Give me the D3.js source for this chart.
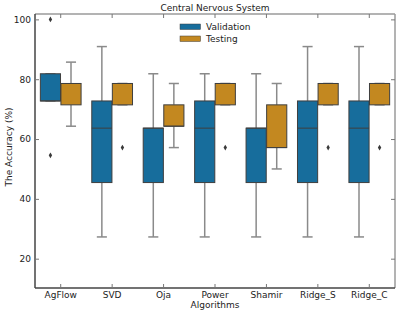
<!DOCTYPE html>
<html>
<head>
<meta charset="utf-8">
<script src="https://cdn.jsdelivr.net/npm/d3@7"></script>
<style>
  body { margin: 0; background: #fff; }
  text { font-family: "DejaVu Sans", sans-serif; fill: #222; }
</style>
</head>
<body>
<script>
// categories and series
const algorithms = ["AgFlow", "SVD", "Oja", "Power", "Shamir", "Ridge_S", "Ridge_C"];
const groups = ["Validation", "Testing"];
const groupColors = ["#176d9c", "#c38820"];

// Validation box stats (accuracy %)
const valLow  = [72.73, 27.27, 27.27, 27.27, 27.27, 27.27, 27.27];
const valQ1   = [72.73, 45.45, 45.45, 45.45, 45.45, 45.45, 45.45];
const valMed  = [72.73, 63.64, 63.64, 63.64, 63.64, 63.64, 63.64];
const valQ3   = [81.82, 72.73, 63.64, 72.73, 63.64, 72.73, 72.73];
const valHigh = [81.82, 90.91, 81.82, 81.82, 81.82, 90.91, 90.91];
const valOut  = [[100, 54.55], [], [], [], [], [], []];

// Testing box stats (accuracy %)
const testLow  = [64.29, 71.43, 57.14, 71.43, 50.00, 71.43, 71.43];
const testQ1   = [71.43, 71.43, 64.29, 71.43, 57.14, 71.43, 71.43];
const testMed  = [78.57, 78.57, 64.29, 78.57, 57.14, 78.57, 78.57];
const testQ3   = [78.57, 78.57, 71.43, 78.57, 71.43, 78.57, 78.57];
const testHigh = [85.71, 78.57, 78.57, 78.57, 78.57, 78.57, 78.57];
const testOut  = [[], [57.14], [], [57.14], [], [57.14], [57.14]];

const yTicks = [20, 40, 60, 80, 100];

let margin = {top: 14, right: 4, bottom: 28, left: 35},
    width = 399 - margin.left - margin.right,
    height = 316 - margin.top - margin.bottom;

let svg = d3.select("body")
    .append("svg")
        .attr("width", 399)
        .attr("height", 316);

let g = svg.append("g")
    .attr("transform", "translate(" + margin.left + "," + margin.top + ")");

let x = d3.scaleBand()
    .domain(algorithms)
    .range([0, width]);

let xInner = d3.scaleBand()
    .domain(groups)
    .range([x.bandwidth() * 0.1, x.bandwidth() * 0.9]);

let y = d3.scaleLinear()
    .domain([10.2, 101.8])
    .range([height, 0]);

// build one record per box
let boxes = [];
algorithms.forEach(function(a, i) {
    boxes.push({alg: a, grp: 0, low: valLow[i], q1: valQ1[i], med: valMed[i], q3: valQ3[i], high: valHigh[i], out: valOut[i]});
    boxes.push({alg: a, grp: 1, low: testLow[i], q1: testQ1[i], med: testMed[i], q3: testQ3[i], high: testHigh[i], out: testOut[i]});
});

let bw = xInner.bandwidth() * 0.98;
let cx = function(d) { return x(d.alg) + xInner(groups[d.grp]) + xInner.bandwidth() / 2; };

let box = g.selectAll(".box")
    .data(boxes)
    .enter()
    .append("g")
        .attr("class", "box");

// whiskers
box.append("line")
    .attr("x1", cx).attr("x2", cx)
    .attr("y1", function(d) { return y(d.q3); })
    .attr("y2", function(d) { return y(d.high); })
    .style("stroke", "#8a8a8a").style("stroke-width", 1.5);
box.append("line")
    .attr("x1", cx).attr("x2", cx)
    .attr("y1", function(d) { return y(d.q1); })
    .attr("y2", function(d) { return y(d.low); })
    .style("stroke", "#8a8a8a").style("stroke-width", 1.5);
// caps
box.append("line")
    .attr("x1", function(d) { return cx(d) - bw / 4; })
    .attr("x2", function(d) { return cx(d) + bw / 4; })
    .attr("y1", function(d) { return y(d.high); })
    .attr("y2", function(d) { return y(d.high); })
    .style("stroke", "#8a8a8a").style("stroke-width", 1.5);
box.append("line")
    .attr("x1", function(d) { return cx(d) - bw / 4; })
    .attr("x2", function(d) { return cx(d) + bw / 4; })
    .attr("y1", function(d) { return y(d.low); })
    .attr("y2", function(d) { return y(d.low); })
    .style("stroke", "#8a8a8a").style("stroke-width", 1.5);

// boxes
box.append("rect")
    .attr("x", function(d) { return cx(d) - bw / 2; })
    .attr("y", function(d) { return y(d.q3); })
    .attr("width", bw)
    .attr("height", function(d) { return y(d.q1) - y(d.q3); })
    .style("fill", function(d) { return groupColors[d.grp]; })
    .style("stroke", "#3f3f3f")
    .style("stroke-width", 1);

// medians
box.append("line")
    .attr("x1", function(d) { return cx(d) - bw / 2; })
    .attr("x2", function(d) { return cx(d) + bw / 2; })
    .attr("y1", function(d) { return y(d.med); })
    .attr("y2", function(d) { return y(d.med); })
    .style("stroke", "#3f3f3f").style("stroke-width", 1);

// outliers
box.selectAll(".flier")
    .data(function(d) { return d.out.map(function(v) { return {v: v, x: cx(d)}; }); })
    .enter()
    .append("path")
        .attr("class", "flier")
        .attr("d", d3.symbol().type(d3.symbolDiamond).size(10))
        .attr("transform", function(d) { return "translate(" + d.x + "," + y(d.v) + ")"; })
        .style("fill", "#3a3a3a");

// frame
g.append("line").attr("x1", 0).attr("x2", width).attr("y1", 0).attr("y2", 0)
    .style("stroke", "#9a9a9a").style("stroke-width", 1.5);
g.append("line").attr("x1", width).attr("x2", width).attr("y1", 0).attr("y2", height)
    .style("stroke", "#9a9a9a").style("stroke-width", 1.5);
g.append("line").attr("x1", 0).attr("x2", width).attr("y1", height).attr("y2", height)
    .style("stroke", "#444").style("stroke-width", 1.5);
g.append("line").attr("x1", 0).attr("x2", 0).attr("y1", 0).attr("y2", height)
    .style("stroke", "#444").style("stroke-width", 1.5);

// axes with inward ticks
let xAxis = g.append("g")
    .attr("transform", "translate(0," + height + ")")
    .call(d3.axisBottom(x).tickSizeInner(-4).tickSizeOuter(0).tickPadding(3.5));
let xTop = g.append("g")
    .call(d3.axisTop(x).tickSizeInner(-4).tickSizeOuter(0).tickFormat(""));
let yAxis = g.append("g")
    .call(d3.axisLeft(y).tickValues(yTicks).tickSizeInner(-4).tickSizeOuter(0).tickPadding(4));
let yRight = g.append("g")
    .attr("transform", "translate(" + width + ",0)")
    .call(d3.axisRight(y).tickValues(yTicks).tickSizeInner(-4).tickSizeOuter(0).tickFormat(""));

[xAxis, xTop, yAxis, yRight].forEach(function(a) {
    a.select(".domain").remove();
    a.selectAll(".tick line").style("stroke", "#777");
    a.selectAll("text").style("font-size", "9px").style("font-family", "DejaVu Sans, sans-serif").style("fill", "#222");
});

// title and axis labels
svg.append("text")
    .text("Central Nervous System")
    .attr("x", margin.left + width / 2)
    .attr("y", 10.5)
    .attr("text-anchor", "middle")
    .style("font-size", "9px");

svg.append("text")
    .text("Algorithms")
    .attr("x", margin.left + width / 2)
    .attr("y", 308)
    .attr("text-anchor", "middle")
    .style("font-size", "9px");

svg.append("text")
    .text("The Accuracy (%)")
    .attr("transform", "translate(11.5,147) rotate(-90)")
    .attr("text-anchor", "middle")
    .style("font-size", "9px");

// legend
let legend = svg.selectAll(".legend")
    .data(groups)
    .enter()
    .append("g")
        .attr("class", "legend")
        .attr("transform", function(d, i) { return "translate(180," + (24 + i * 12) + ")"; });
legend.append("rect")
    .attr("width", 20.5)
    .attr("height", 5.5)
    .style("fill", function(d, i) { return groupColors[i]; })
    .style("stroke", "#3f3f3f")
    .style("stroke-width", 0.5);
legend.append("text")
    .text(function(d) { return d; })
    .attr("x", 26)
    .attr("y", 6.3)
    .style("font-size", "9px");
</script>
</body>
</html>
